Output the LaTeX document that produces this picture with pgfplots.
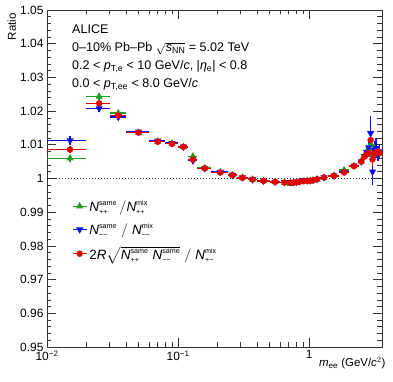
\documentclass[border=0pt]{standalone}
\usepackage{fontspec}
\setmainfont{Liberation Sans}
\usepackage{amsmath}
\usepackage{pgfplots}
\usepackage{pgfplotstable}
\pgfplotsset{compat=1.18}
\definecolor{cgreen}{rgb}{0.13,0.62,0.13}
\definecolor{cblue}{rgb}{0.05,0.05,0.92}
\definecolor{cred}{rgb}{0.90,0.0,0.0}
\newcommand{\sm}[1]{\text{\fontsize{7.2}{8}\selectfont #1}}

\pgfplotstableread{
x y ex ey
0.015 1.0060 0.005 0.0010
0.025 1.0243 0.005 0.0011
0.035 1.0194 0.005 0.0008
0.05 1.0136 0.01 0.0005
0.07 1.0110 0.01 0.0004
0.09 1.0104 0.01 0.0004
0.11 1.0094 0.01 0.0003
0.13 1.0066 0.01 0.0005
0.16 1.0031 0.02 0.0003
0.21 1.0019 0.03 0.0003
0.26 1.0010 0.02 0.0003
0.31 1.0003 0.03 0.0003
0.37 0.9997 0.03 0.0003
0.45 0.9993 0.05 0.0003
0.55 0.9990 0.05 0.0003
0.65 0.9988 0.05 0.0003
0.72 0.9984 0.02 0.0003
0.76 0.9986 0.02 0.0003
0.80 0.9988 0.02 0.0003
0.84 0.9990 0.02 0.0003
0.90 0.9992 0.04 0.0003
0.97 0.9993 0.03 0.0003
1.02 0.9994 0.02 0.0003
1.07 0.9995 0.03 0.0003
1.15 0.9998 0.05 0.0003
1.30 1.0003 0.10 0.0004
1.55 1.0009 0.15 0.0004
1.85 1.0025 0.15 0.0006
2.20 1.0037 0.20 0.0007
2.50 1.0052 0.10 0.0010
2.65 1.0068 0.05 0.0012
2.75 1.0080 0.05 0.0015
2.85 1.0088 0.05 0.0018
2.95 1.0102 0.05 0.0025
3.05 1.0070 0.05 0.0025
3.15 1.0090 0.05 0.0022
3.25 1.0080 0.05 0.0020
3.35 1.0072 0.05 0.0020
3.45 1.0078 0.05 0.0020
}\greendata

\pgfplotstableread{
x y ex ey
0.015 1.0113 0.005 0.0013
0.025 1.0208 0.005 0.0010
0.035 1.0182 0.005 0.0008
0.05 1.0139 0.01 0.0005
0.07 1.0112 0.01 0.0004
0.09 1.0105 0.01 0.0004
0.11 1.0094 0.01 0.0003
0.13 1.0053 0.01 0.0005
0.16 1.0030 0.02 0.0003
0.21 1.0019 0.03 0.0003
0.26 1.0010 0.02 0.0003
0.31 1.0003 0.03 0.0003
0.37 0.9997 0.03 0.0003
0.45 0.9993 0.05 0.0003
0.55 0.9990 0.05 0.0003
0.65 0.9989 0.05 0.0003
0.72 0.9989 0.02 0.0003
0.76 0.9989 0.02 0.0003
0.80 0.9990 0.02 0.0003
0.84 0.9991 0.02 0.0003
0.90 0.9995 0.04 0.0003
0.97 0.9994 0.03 0.0003
1.02 0.9994 0.02 0.0003
1.07 0.9995 0.03 0.0003
1.15 0.9998 0.05 0.0003
1.30 1.0003 0.10 0.0004
1.55 1.0008 0.15 0.0004
1.85 1.0019 0.15 0.0006
2.20 1.0038 0.20 0.0007
2.50 1.0050 0.10 0.0010
2.65 1.0066 0.05 0.0012
2.75 1.0078 0.05 0.0015
2.85 1.0092 0.05 0.0018
2.95 1.0134 0.05 0.0050
3.05 1.0020 0.05 0.0040
3.15 1.0085 0.05 0.0025
3.25 1.0090 0.05 0.0030
3.35 1.0075 0.05 0.0022
3.45 1.0080 0.05 0.0022
}\bluedata

\pgfplotstableread{
x y ex ey
0.015 1.0086 0.005 0.0010
0.025 1.0223 0.005 0.0008
0.035 1.0187 0.005 0.0006
0.05 1.0136 0.01 0.0004
0.07 1.0109 0.01 0.0003
0.09 1.0103 0.01 0.0003
0.11 1.0094 0.01 0.0003
0.13 1.0056 0.01 0.0004
0.16 1.0030 0.02 0.0003
0.21 1.0018 0.03 0.0002
0.26 1.0010 0.02 0.0002
0.31 1.0002 0.03 0.0002
0.37 0.9997 0.03 0.0002
0.45 0.9993 0.05 0.0002
0.55 0.9990 0.05 0.0002
0.65 0.9988 0.05 0.0002
0.72 0.9988 0.02 0.0002
0.76 0.9988 0.02 0.0002
0.80 0.9989 0.02 0.0002
0.84 0.9990 0.02 0.0002
0.90 0.9992 0.04 0.0002
0.97 0.9993 0.03 0.0002
1.02 0.9993 0.02 0.0002
1.07 0.9995 0.03 0.0002
1.15 0.9998 0.05 0.0002
1.30 1.0003 0.10 0.0003
1.55 1.0008 0.15 0.0003
1.85 1.0018 0.15 0.0004
2.20 1.0037 0.20 0.0005
2.50 1.0050 0.10 0.0007
2.65 1.0065 0.05 0.0009
2.75 1.0071 0.05 0.0011
2.85 1.0076 0.05 0.0013
2.95 1.0114 0.05 0.0020
3.05 1.0057 0.05 0.0020
3.15 1.0075 0.05 0.0016
3.25 1.0078 0.05 0.0015
3.35 1.0078 0.05 0.0015
3.45 1.0076 0.05 0.0015
}\reddata

\begin{document}
\begin{tikzpicture}
\begin{axis}[
  scale only axis, width=335bp, height=337bp,
  xmode=log, xmin=0.01, xmax=3.6, ymin=0.95, ymax=1.05,
  xtick={0.01,0.1,1},
  xticklabels={10\textsuperscript{−2},10\textsuperscript{−1},1},
  ytick={0.95,0.96,0.97,0.98,0.99,1.0,1.01,1.02,1.03,1.04,1.05},
  minor y tick num=4,
  tick align=inside,
  major tick length=9bp, minor tick length=4.5bp,
  axis line style={black!80, line width=0.7bp},
  every tick/.style={black!80, line width=0.6bp},
  /pgf/number format/assume math mode=true,
  yticklabel={\pgfmathprintnumber[fixed,precision=2]{\tick}},
  ticklabel style={font=\fontsize{12}{12}\selectfont},
  xlabel={\textit{m}$_{\text{ee}}$ (GeV/\textit{c}$^{2}$)},
  xlabel style={at={(axis description cs:1,0)}, anchor=north east, xshift=7bp, yshift=-7bp, font=\fontsize{11.5}{12}\selectfont},
  ylabel={Ratio},
  ylabel style={at={(axis description cs:-0.105,1)}, anchor=east, rotate=0, font=\fontsize{11.5}{12}\selectfont},
  legend image code/.code={\draw[#1] (0bp,0bp) -- (14bp,0bp); \draw[#1] plot coordinates {(7bp,0bp)};},
  legend style={at={(rel axis cs:0.065,0.449)}, anchor=north west, draw=none, fill=none,
    font=\fontsize{13.5}{14}\selectfont, row sep=6.5bp, cells={anchor=west}},
  error bars/error bar style={line width=1.4bp},
]
\addplot[black!85, densely dashed, dash pattern=on 1.5bp off 1.5bp, line width=0.9bp, forget plot] coordinates {(0.01,1) (3.6,1)};

\addplot+[only marks, cgreen, line width=1.4bp, mark=triangle*, mark size=2.8bp, mark options={fill=cgreen, solid},
  error bars/.cd, x dir=both, x explicit, y dir=both, y explicit, error mark=none]
  table[x=x, y=y, x error=ex, y error=ey] {\greendata};
\addlegendentry{$\textit{N}^{\sm{same}}_{\sm{++}}\,/\textit{N}^{\sm{mix}}_{\sm{++}}$}

\addplot+[only marks, cblue, line width=1.4bp, mark=triangle*, mark size=2.8bp, mark options={fill=cblue, solid, rotate=180},
  error bars/.cd, x dir=both, x explicit, y dir=both, y explicit, error mark=none]
  table[x=x, y=y, x error=ex, y error=ey] {\bluedata};
\addlegendentry{$\textit{N}^{\sm{same}}_{\sm{−−}}\;/\;\textit{N}^{\sm{mix}}_{\sm{−−}}$}

\addplot+[only marks, cred, line width=1.4bp, mark=*, mark size=2.5bp, mark options={fill=cred, solid},
  error bars/.cd, x dir=both, x explicit, y dir=both, y explicit, error mark=none]
  table[x=x, y=y, x error=ex, y error=ey] {\reddata};
\addlegendentry{$\text{2}\textit{R}\sqrt{\textit{N}^{\sm{same}}_{\sm{++}}\;\textit{N}^{\sm{same}}_{\sm{−−}}}\;/\;\textit{N}^{\sm{mix}}_{\sm{+−}}$}

\begin{scope}[every node/.style={anchor=base west, inner sep=0pt, font=\fontsize{12.6}{13}\selectfont}]
\node at (rel axis cs:0.0746,0.929) {ALICE};
\node at (rel axis cs:0.0746,0.877) {0–10\% Pb–Pb $\sqrt{\textit{s}_{\text{NN}}}$ = 5.02 TeV};
\node at (rel axis cs:0.0746,0.822) {0.2 < \textit{p}$_{\text{T,e}}$ < 10 GeV/\textit{c}, |\textit{η}$_{\text{e}}$| < 0.8};
\node at (rel axis cs:0.0746,0.770) {0.0 < \textit{p}$_{\text{T,ee}}$ < 8.0 GeV/\textit{c}};
\end{scope}
\end{axis}
\pgfresetboundingbox
\path ([xshift=-47bp,yshift=-35bp]current axis.south west) rectangle ([xshift=11bp,yshift=10bp]current axis.north east);
\end{tikzpicture}
\end{document}
